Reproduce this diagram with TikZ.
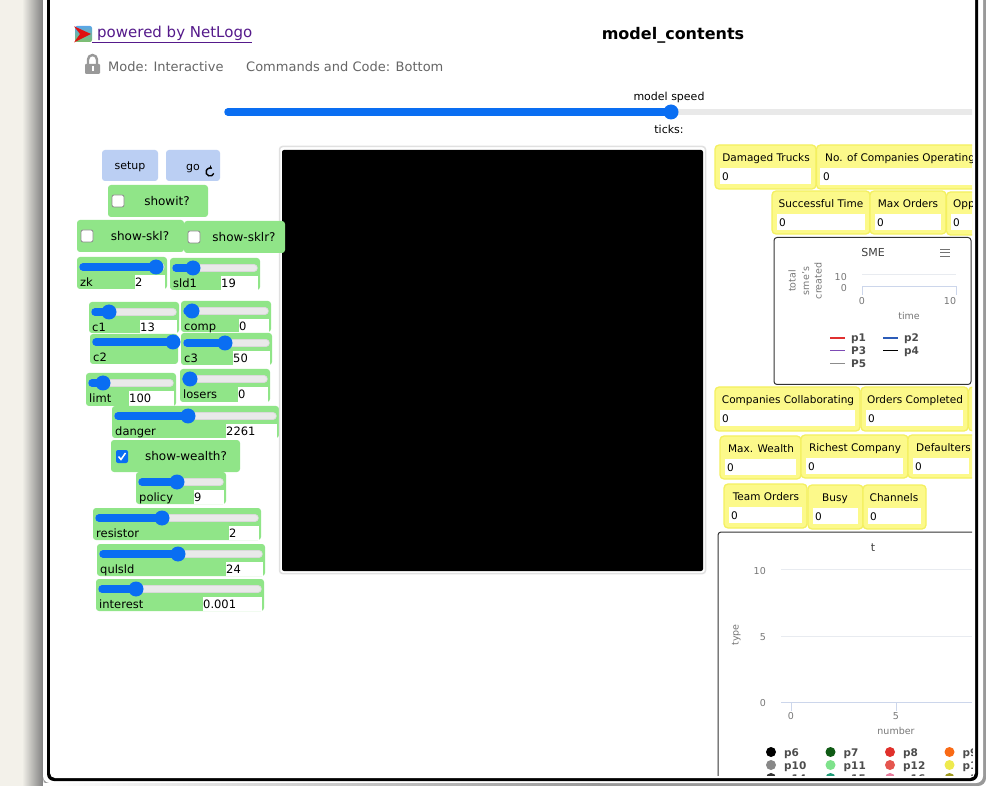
\documentclass[tikz,border=0pt]{standalone}
\usepackage{fontspec}
\setmainfont{DejaVu Sans}
\usetikzlibrary{arrows.meta}
\definecolor{wgreen}{HTML}{90E588}
\definecolor{wyellow}{HTML}{FCF98A}
\definecolor{wyedge}{HTML}{F4F060}
\definecolor{wblue}{HTML}{0A6EF2}
\definecolor{btn}{HTML}{BBCFF3}
\definecolor{trk}{HTML}{E9E9E9}
\definecolor{axisc}{HTML}{CCD6EB}
\definecolor{gridc}{HTML}{E8EBF0}
\definecolor{graytxt}{HTML}{666666}
\definecolor{ticktxt}{HTML}{777777}
\definecolor{cream}{HTML}{F3F1EA}
\definecolor{logored}{HTML}{E01010}
\definecolor{logoblue}{HTML}{5BA6E8}
\definecolor{logogreen}{HTML}{7FC06A}
\definecolor{linkc}{HTML}{551A8B}
\definecolor{cA}{HTML}{E03030}
\definecolor{cB}{HTML}{2C5CB8}
\definecolor{cC}{HTML}{7D4BB5}
\definecolor{dA}{HTML}{0F5A14}
\definecolor{dB}{HTML}{E0302B}
\definecolor{dC}{HTML}{F96A15}
\definecolor{dD}{HTML}{888888}
\definecolor{dE}{HTML}{7EE28B}
\definecolor{dF}{HTML}{E5564F}
\definecolor{dG}{HTML}{EEEA4E}
\definecolor{dH}{HTML}{333333}
\definecolor{dI}{HTML}{1E9B78}
\definecolor{dJ}{HTML}{E87D9E}
\definecolor{dK}{HTML}{A09A1E}
\tikzset{
  wtext/.style={font=\fontsize{11}{11}\selectfont,text=black,inner sep=0pt,text height=11pt,text depth=2pt},
  ltext/.style={wtext,font=\fontsize{11.5}{11.5}\selectfont,anchor=west},
  swtext/.style={wtext,font=\fontsize{12}{12}\selectfont},
  montext/.style={wtext,font=\fontsize{10.5}{10.5}\selectfont},
  monleft/.style={montext,anchor=west},
  wbox/.style={fill=wgreen,rounded corners=3pt},
  whitebox/.style={fill=white},
  track/.style={line width=7.5pt,line cap=round},
  monbox/.style={fill=wyellow,draw=wyedge,line width=1.3pt,rounded corners=4pt},
  headtxt/.style={font=\fontsize{13}{13}\selectfont,text=graytxt,inner sep=0pt,anchor=west,text height=14pt,text depth=3pt},
  ticklab/.style={font=\fontsize{9.5}{9.5}\selectfont,text=ticktxt,inner sep=0pt,text height=9pt,text depth=2pt},
  plotbox/.style={draw=black!80,line width=1pt,rounded corners=3pt,fill=white},
  legtxt/.style={font=\fontsize{10.5}{10.5}\bfseries\selectfont,text=black!70,inner sep=0pt,anchor=west,text height=10pt,text depth=2pt},
  chk/.style={fill=white,draw=black!45,line width=.8pt,rounded corners=2pt},
}
% name, x0,y0,x1,y1, knob x, label, value, value box left
\newcommand\wslider[9]{%
  \fill[wbox] (#2,#3) rectangle (#4,#5);
  \fill[whitebox] (#9,{#3+18}) rectangle ({#4-2},{#5});
  \draw[track,black!15] ({#2+6},{#3+10}) -- ({#4-6},{#3+10});
  \draw[line width=6pt,line cap=round,trk] ({#2+6},{#3+10}) -- ({#4-6},{#3+10});
  \draw[track,wblue] ({#2+6},{#3+10}) -- (#6,{#3+10});
  \fill[wblue] (#6,{#3+10}) circle (7.5pt);
  \node[ltext] (#1-l) at ({#2+3},{#3+25}) {#7};
  \node[ltext] (#1-v) at (#9,{#3+25}) {#8};
}
% name, x0,y0,x1,y1, check x, text centre, label
\newcommand\wswitch[8]{%
  \fill[wbox] (#2,#3) rectangle (#4,#5);
  \filldraw[chk] (#6,{#3+10}) rectangle ({#6+12},{#3+22});
  \node[swtext] (#1) at (#7,{#3+16}) {#8};
}
% name, x0,y0,x1,y1, label centre x, label
\newcommand\wmon[7]{%
  \filldraw[monbox] (#2,#3) rectangle (#4,#5);
  \fill[whitebox] ({#2+5},{#3+23}) rectangle ({#4-5},{#3+39});
  \node[montext] (#1-l) at (#6,{#3+12}) {#7};
  \node[monleft] (#1-v) at ({#2+7},{#3+31}) {0};
}
\newcommand\legline[5]{%
  \draw[#3,line width=1.6pt] (#1,#2) -- ({#1+15},#2);
  \node[legtxt] (#4) at ({#1+21},#2) {#5};
}
\newcommand\legdot[5]{%
  \fill[#3] (#1,#2) circle (5pt);
  \node[legtxt] (#4) at ({#1+13},#2) {#5};
}
\begin{document}
\begin{tikzpicture}[x=1pt,y=-1pt]
\useasboundingbox (0,0) rectangle (986,786);
% desktop and window
\fill[cream] (0,0) rectangle (30,786);
\shade[left color=cream,right color=black!50] (22,0) rectangle (43,786);
\fill[black!40,rounded corners=8pt] (43,-20) rectangle (986,786);
\fill[white,rounded corners=7pt] (43,-20) rectangle (983,783);
\shade[left color=white,right color=black!40] (43,783) rectangle (600,786);
\fill[black,rounded corners=7pt] (47,-20) rectangle (978,781);
\fill[white,rounded corners=5pt] (50,-20) rectangle (975,778);
% header
\shade[top color=logoblue,bottom color=logogreen,rounded corners=2pt] (75,26) rectangle (92,42);
\fill[logored] (74,26.3) -- (91,34) -- (74,42.5) -- (80,34) -- cycle;
\node[font=\fontsize{15}{15}\selectfont,text=linkc,inner sep=0pt,anchor=west,text height=13pt,text depth=3pt] (link) at (92,32.5) {\underline{\kern5pt powered by NetLogo}};
\node[font=\fontsize{16}{16}\bfseries\selectfont,inner sep=0pt,text height=15pt,text depth=3pt] (title) at (673,34) {model\_contents};
\fill[black!40,rounded corners=1pt] (85,64) rectangle (100,74);
\draw[black!40,line width=2.4pt] (88,64) -- (88,59.5) arc (180:360:4.5) -- (97,64);
\fill[white] (91.5,66.5) rectangle (93.5,71);
\node[headtxt] (mode) at (108,66.5) {Mode: Interactive};
\node[headtxt] (cmds) at (246,66.5) {Commands and Code: Bottom};
\begin{scope}
\clip (50,0) rectangle (972,775);
% speed slider
\node[wtext] (speed) at (669,96) {model speed};
\node[wtext] (ticks) at (669,129) {ticks:};
\draw[line width=6.5pt,trk] (228,112) -- (975,112);
\draw[track,wblue] (228,112) -- (671,112);
\fill[wblue] (671,112) circle (7.5pt);
% buttons
\fill[btn,rounded corners=3pt] (102,150) rectangle (158,181);
\node[wtext] (setup) at (130,165.5) {setup};
\fill[btn,rounded corners=3pt] (166,150) rectangle (220,181);
\node[wtext] (go) at (193,166) {go};
\draw[line width=1.4pt,-{Stealth[length=3.5pt,width=4.5pt]}] (213.8,173.4) arc (20:300:4);
% switches
\wswitch{showit}{108}{185}{208}{217}{112}{167}{showit?}
\wswitch{showskl}{77}{220}{184}{252}{81}{140}{show-skl?}
% sliders
\wslider{zk}{77}{257}{167}{289}{156}{zk}{2}{135}
\wslider{sldone}{170}{258}{260}{290}{193}{sld1}{19}{221}
\wslider{cone}{89}{302}{179}{333}{109}{c1}{13}{140}
\wslider{comp}{181}{301}{271}{332}{192}{comp}{0}{239}
\fill[wbox] (90,334) rectangle (178,364);
\draw[track,wblue] (96,342) -- (176,342);
\fill[wblue] (173,342) circle (7.5pt);
\node[ltext] (ctwo) at (93,357) {c2};
\wslider{cthree}{181}{333}{272}{365}{225}{c3}{50}{233}
\wslider{limt}{86}{373}{176}{406}{103}{limt}{100}{129}
\wslider{losers}{180}{369}{270}{402}{190}{losers}{0}{238}
\wslider{danger}{112}{406}{279}{438}{188}{danger}{2261}{226}
\fill[wbox] (111,440) rectangle (240,472);
\fill[wblue,rounded corners=2pt] (116,450) rectangle (128,463);
\draw[white,line width=1.5pt] (118.5,456.5) -- (121,459.5) -- (125.5,453);
\node[swtext] (wealth) at (186,456) {show-wealth?};
\wslider{policy}{136}{472}{226}{504}{177}{policy}{9}{194}
\wslider{resistor}{93}{508}{261}{540}{162}{resistor}{2}{229}
\wslider{qulsld}{97}{544}{265}{576}{178}{qulsld}{24}{226}
\wslider{interest}{96}{579}{264}{611}{136}{interest}{0.001}{203}
% view
\filldraw[draw=black!12,line width=1.5pt,fill=white,rounded corners=3pt] (279.5,146.5) rectangle (705.5,573.5);
\fill[black,rounded corners=2pt] (282,150) rectangle (703,571);
\wswitch{showsklr}{184}{221}{285}{253}{188}{244}{show-sklr?}
% monitors
\wmon{damaged}{715}{145}{816}{189}{766}{Damaged Trucks}
\filldraw[monbox] (816.5,145) rectangle (1000,189);
\fill[whitebox] (820,168) rectangle (980,185);
\node[monleft] (nocomp) at (825,157) {No. of Companies Operating};
\node[monleft] (nocompv) at (823,176.5) {0};
\wmon{succ}{772}{191}{870}{234}{821}{Successful Time}
\wmon{maxord}{870}{191}{946}{234}{908}{Max Orders}
\filldraw[monbox] (946.5,192) rectangle (1000,235);
\fill[whitebox] (951,214) rectangle (980,230);
\node[monleft] (opp) at (953,203) {Opp};
\node[monleft] (oppv) at (953,222) {0};
% SME plot
\filldraw[plotbox] (774,237.5) rectangle (971,384.5);
\node[wtext,text=black!75] (sme) at (873,252) {SME};
\foreach \yy in {249,252.5,256} \draw[black!55,line width=.8pt] (940,\yy) -- (950,\yy);
\node[ticklab,rotate=90] (yla) at (792,281) {total};
\node[ticklab,rotate=90] (ylb) at (805.5,281) {sme's};
\node[ticklab,rotate=90] (ylc) at (818,281) {created};
\node[ticklab,anchor=east] (ta) at (847,277) {10};
\node[ticklab,anchor=east] (tb) at (847,288) {0};
\draw[gridc,line width=1pt] (862,275) -- (956,275);
\draw[axisc,line width=1pt] (862,295) -- (862,287) -- (956,287) -- (956,295);
\node[ticklab] (xa) at (862,301) {0};
\node[ticklab] (xb) at (950,301) {10};
\node[ticklab] (time) at (909,316) {time};
\legline{830}{338}{cA}{lp1}{p1}
\legline{883}{338}{cB}{lp2}{p2}
\legline{830}{350.5}{cC}{lp3}{P3}
\legline{883}{350.5}{black}{lp4}{p4}
\legline{830}{363.5}{black!45}{lp5}{P5}
% monitors row 2
\wmon{collab}{715}{387}{860}{431}{788}{Companies Collaborating}
\wmon{ordc}{861}{387}{968}{431}{915}{Orders Completed}
\filldraw[monbox] (968.5,387) rectangle (1000,431);
\wmon{maxw}{720}{436}{801}{479}{761}{Max. Wealth}
\wmon{rich}{801}{435}{908}{478}{855}{Richest Company}
\filldraw[monbox] (908,435) rectangle (1000,478);
\fill[whitebox] (913,458) rectangle (969,474);
\node[monleft] (defa) at (916,447) {Defaulters};
\node[monleft] (defv) at (915,466) {0};
\wmon{team}{724}{484}{807}{528}{766}{Team Orders}
\wmon{busy}{808}{485}{863}{529}{835}{Busy}
\wmon{chan}{863}{485}{926}{529}{894}{Channels}
% t plot
\filldraw[plotbox] (718,532) rectangle (1000,800);
\node[wtext,text=black!75] (tt) at (873,547) {t};
\draw[gridc,line width=1pt] (781,569) -- (972,569);
\draw[gridc,line width=1pt] (781,636) -- (972,636);
\draw[axisc,line width=1pt] (781,702) -- (972,702);
\draw[axisc,line width=1pt] (791,702) -- (791,711);
\draw[axisc,line width=1pt] (896,702) -- (896,711);
\node[ticklab,anchor=east] (ya) at (766,571) {10};
\node[ticklab,anchor=east] (yb) at (766,637) {5};
\node[ticklab,anchor=east] (yc) at (766,702.5) {0};
\node[ticklab,rotate=90] (type) at (735,635) {type};
\node[ticklab] (xc) at (791,716) {0};
\node[ticklab] (xd) at (896,716) {5};
\node[ticklab] (number) at (896,730.5) {number};
\legdot{771}{752}{black}{p6}{p6}
\legdot{830.5}{752}{dA}{p7}{p7}
\legdot{890}{752}{dB}{p8}{p8}
\legdot{949.5}{752}{dC}{p9}{p9}
\legdot{771}{765}{dD}{p10}{p10}
\legdot{830.5}{765}{dE}{p11}{p11}
\legdot{890}{765}{dF}{p12}{p12}
\legdot{949.5}{765}{dG}{p13}{p13}
\legdot{771}{778}{dH}{p14}{p14}
\legdot{830.5}{778}{dI}{p15}{p15}
\legdot{890}{778}{dJ}{p16}{p16}
\legdot{949.5}{778}{dK}{p17}{p17}
\end{scope}
\end{tikzpicture}
\end{document}
